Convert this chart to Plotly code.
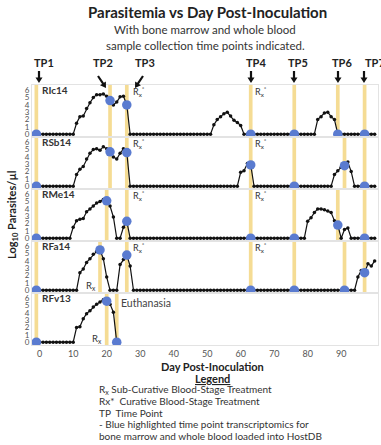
import math
import plotly.graph_objects as go
from plotly.subplots import make_subplots

# ---------------- data ----------------
days = list(range(0, 101))
animals = ["RIc14", "RSb14", "RMe14", "RFa14", "RFv13"]

ric14 = [0, 0, 0, 0, 0, 0, 0, 0, 0, 0, 0,
         1.5, 2.4, 2.5, 3.5, 4.3, 5.0, 5.4, 5.4, 5.5, 5.2, 4.6, 4.0, 4.4, 5.1, 5.2, 4.0,
         0, 0, 0, 0, 0, 0, 0, 0, 0, 0, 0, 0, 0, 0, 0, 0, 0, 0, 0, 0, 0, 0, 0, 0, 0,
         1.3, 2.0, 2.4, 2.8, 3.0, 2.5, 1.9, 1.6, 1.2,
         0, 0, 0, 0, 0, 0, 0, 0, 0, 0, 0, 0, 0, 0, 0, 0, 0, 0, 0, 0, 0, 0,
         2.0, 2.4, 2.9, 3.0, 2.4, 2.0,
         0, 0, 0, 0, 0, 0, 0, 0, 0, 0, 0, 0]
rsb14 = [0, 0, 0, 0, 0, 0, 0, 0, 0, 0, 0,
         1.6, 2.3, 2.7, 3.7, 4.5, 5.0, 5.1, 4.9, 5.4, 5.1, 4.7, 4.0, 3.7, 4.5, 5.1, 4.6,
         0, 0, 0, 0, 0, 0, 0, 0, 0, 0, 0, 0, 0, 0, 0, 0, 0, 0, 0, 0, 0, 0, 0, 0, 0,
         0, 0, 0, 0, 0, 0, 0, 0,
         1.9, 2.1, 3.1, 2.9,
         0, 0, 0, 0, 0, 0, 0, 0, 0, 0, 0, 0, 0, 0, 0, 0, 0, 0, 0, 0, 0, 0, 0, 0,
         1.6, 2.1, 2.6, 2.8, 3.3, 2.0,
         0, 0, 0, 0, 0, 0, 0]
rme14 = [0, 0, 0, 0, 0, 0, 0, 0, 0, 0,
         1.5, 2.4, 2.6, 2.7, 3.6, 4.0, 4.4, 4.8, 5.0, 5.3, 5.1, 4.4, 2.9,
         0, 0,
         1.5, 2.3,
         0, 0, 0, 0, 0, 0, 0, 0, 0, 0, 0, 0, 0, 0, 0, 0, 0, 0, 0, 0, 0, 0, 0, 0, 0,
         0, 0, 0, 0, 0, 0, 0, 0, 0, 0, 0, 0, 0, 0, 0, 0, 0, 0, 0, 0, 0, 0, 0, 0, 0,
         0, 0, 0,
         2.3, 2.8, 3.5, 4.0, 4.0, 3.9, 3.7, 3.5, 2.4, 1.8,
         0,
         1.2, 1.4,
         0, 0, 0, 0, 0, 0, 0, 0]
rfa14 = [0, 0, 0, 0, 0, 0, 0, 0, 0, 0, 0, 0,
         2.4, 2.9, 3.8, 4.3, 4.9, 5.3, 5.5, 4.3, 1.8,
         0, 0, 0,
         3.5, 4.2, 4.8, 3.3,
         0, 0, 0, 0, 0, 0, 0, 0, 0, 0, 0, 0, 0, 0, 0, 0, 0, 0, 0, 0, 0, 0, 0, 0, 0,
         0, 0, 0, 0, 0, 0, 0, 0, 0, 0, 0, 0, 0, 0, 0, 0, 0, 0, 0, 0, 0, 0, 0, 0, 0,
         0, 0, 0, 0, 0, 0, 0, 0, 0, 0, 0, 0, 0, 0, 0, 0, 0,
         1.8, 2.7, 2.4, 3.6, 3.3, 4.0]
rfv13 = [0, 0, 0, 0, 0, 0, 0, 0, 0, 0, 0,
         2.0, 2.1, 3.2, 3.9, 4.3, 4.8, 5.2, 5.5, 5.8, 5.6, 5.2, 4.1,
         0]
series = [ric14, rsb14, rme14, rfa14, rfv13]

# time-point (sample collection) days and log10 parasitemia at those days
tp_days = [
    [-1, 21, 26, 63, 76, 89, 97],
    [-1, 21, 26, 63, 76, 91, 97],
    [-1, 20, 26, 63, 76, 89, 97],
    [-1, 18, 26, 63, 76, 91, 97],
    [-1, 20, 23],
]
tp_vals = [
    [0, 4.6, 4.0, 0, 0, 0, 0],
    [0, 4.7, 4.6, 2.9, 0, 2.8, 0],
    [0, 5.1, 2.3, 0, 0, 1.8, 0],
    [0, 5.5, 4.8, 0, 0, 0, 2.4],
    [0, 5.6, 0],
]
x_ticks = [0, 10, 20, 30, 40, 50, 60, 70, 80, 90, 100]
y_ticks = [0, 1, 2, 3, 4, 5, 6]
tp_labels = ["TP1", "TP2", "TP3", "TP4", "TP5", "TP6", "TP7"]

# ---------------- figure ----------------
W, H = 381, 445
PL, PR, PT, PB = 32, 3, 85, 100
PW, PH = W - PL - PR, H - PT - PB


def px(x):
    return (x - PL) / PW


def py(y):
    return (PT + PH - y) / PH


fig = make_subplots(rows=5, cols=1, shared_xaxes=True, vertical_spacing=0)

BAND = "rgba(241,208,112,0.75)"
BLUE = "#5a7bd0"
FONT = "Lato"

for i, (vals, tds, tvs) in enumerate(zip(series, tp_days, tp_vals)):
    r = i + 1
    xs = days[:len(vals)]
    fig.add_trace(go.Scatter(x=xs, y=vals, mode="lines+markers",
                             line=dict(color="#111111", width=1.2),
                             marker=dict(color="#111111", size=3.5),
                             showlegend=False, hoverinfo="skip"), row=r, col=1)
    fig.add_trace(go.Scatter(x=tds, y=tvs, mode="markers",
                             marker=dict(color=BLUE, size=9.5),
                             showlegend=False, hoverinfo="skip"), row=r, col=1)
    yref = "y domain" if r == 1 else f"y{r} domain"
    xref = "x" if r == 1 else f"x{r}"
    for d in tds:
        fig.add_shape(type="rect", xref=xref, yref=yref, x0=d - 0.55, x1=d + 0.55,
                      y0=0, y1=1, fillcolor=BAND, line=dict(width=0), layer="below")

for r in range(1, 6):
    fig.update_yaxes(range=[-0.38, 6.72], tickvals=y_ticks, showgrid=False, zeroline=False,
                     tickfont=dict(size=8, color="#555", family=FONT),
                     showline=True, linecolor="#e3e3e3", mirror=True, ticks="",
                     row=r, col=1)
    fig.update_xaxes(range=[-2.3, 101.0], tickvals=x_ticks, showgrid=False, zeroline=False,
                     showline=True, linecolor="#e3e3e3", mirror=True, ticks="",
                     tickfont=dict(size=9, color="#555", family=FONT),
                     showticklabels=(r == 5), row=r, col=1)

ann = []


def dtext(r, x, y, text, xanchor="left", size=9, bold=False, color="#333"):
    xr = "x" if r == 1 else f"x{r}"
    yr = "y" if r == 1 else f"y{r}"
    t = f"<b>{text}</b>" if bold else text
    ann.append(dict(x=x, y=y, xref=xr, yref=yr, text=t, showarrow=False,
                    xanchor=xanchor, yanchor="middle",
                    font=dict(size=size, color=color, family=FONT)))


RXS = "R<sub>x</sub><sup>*</sup>"
RX = "R<sub>x</sub>"
for r, name in enumerate(animals, start=1):
    dtext(r, 0.1, 6.0, name, size=10, bold=True)
for r in (1, 2, 3, 4):
    dtext(r, 27.2, 5.9, RXS, size=9)
    dtext(r, 63.8, 5.9, RXS, size=9)
dtext(4, 17.4, 0.6, RX, xanchor="right", size=9.5)
dtext(5, 19.3, 0.5, RX, xanchor="right", size=9.5)
dtext(5, 23.6, 5.4, "Euthanasia", size=10.5, color="#444")


def ptext(x, y, text, size, xanchor="center", bold=False, color="#222", underline=False):
    t = text
    if underline:
        t = f"<u>{t}</u>"
    if bold:
        t = f"<b>{t}</b>"
    ann.append(dict(x=px(x), y=py(y), xref="paper", yref="paper", text=t, showarrow=False,
                    xanchor=xanchor, yanchor="middle",
                    font=dict(size=size, color=color, family=FONT)))


ptext(207, 12, "Parasitemia vs Day Post-Inoculation", 15, bold=True)
ptext(205, 29, "With bone marrow and whole blood", 11.5, color="#333")
ptext(205, 45, "sample collection time points indicated.", 11.5, color="#333")

# TP labels
tp_text_x = [44, 103, 145, 256, 298, 342, 363]
for lab, tx in zip(tp_labels, tp_text_x):
    ptext(tx, 62, lab, 11, bold=True, xanchor="left" if lab == "TP7" else "center")


# arrows drawn as filled paths (pixel geometry converted to paper coords)
def arrow_path(tx, ty, hx, hy, head_len=5.5, head_w=7.0, shaft_w=2.2):
    dx, dy = hx - tx, hy - ty
    L = math.hypot(dx, dy)
    ux, uy = dx / L, dy / L
    nx, ny = -uy, ux
    bx, by = hx - ux * head_len, hy - uy * head_len
    pts = [
        (tx + nx * shaft_w / 2, ty + ny * shaft_w / 2),
        (bx + nx * shaft_w / 2, by + ny * shaft_w / 2),
        (bx + nx * head_w / 2, by + ny * head_w / 2),
        (hx, hy),
        (bx - nx * head_w / 2, by - ny * head_w / 2),
        (bx - nx * shaft_w / 2, by - ny * shaft_w / 2),
        (tx - nx * shaft_w / 2, ty - ny * shaft_w / 2),
    ]
    return "M " + " L ".join(f"{px(a):.5f},{py(b):.5f}" for a, b in pts) + " Z"


arrows = [(39, 71, 39, 83), (98, 76, 106, 88), (143, 76, 135, 88),
          (251, 71, 251, 83), (294, 71, 294, 83), (338, 71, 338, 83), (364, 71, 364, 83)]
for tx, ty, hx, hy in arrows:
    fig.add_shape(type="path", xref="paper", yref="paper", path=arrow_path(tx, ty, hx, hy),
                  fillcolor="#111", line=dict(width=0))

# axis titles
ann.append(dict(x=px(12), y=py(215), xref="paper", yref="paper",
                text="<b>Log<sub>10</sub> Parasites/µl</b>", textangle=-90, showarrow=False,
                xanchor="center", yanchor="middle",
                font=dict(size=11, color="#222", family=FONT)))
ptext(212, 366, "Day Post-Inoculation", 11, bold=True)
ptext(212, 378, "Legend", 11, bold=True, underline=True)

legend_lines = [
    "R<sub>x</sub> Sub-Curative Blood-Stage Treatment",
    "Rx*  Curative Blood-Stage Treatment",
    "TP  Time Point",
    "- Blue highlighted time point transcriptomics for",
    "bone marrow and whole blood loaded into HostDB",
]
for k, line in enumerate(legend_lines):
    ptext(97, 389 + k * 11.8, line, 10, xanchor="left", color="#333")

fig.update_layout(width=W, height=H, margin=dict(l=PL, r=PR, t=PT, b=PB),
                  paper_bgcolor="white", plot_bgcolor="white",
                  annotations=ann, showlegend=False,
                  font=dict(family=FONT))

fig.write_html("out.html", config={"displayModeBar": False},
               post_script="document.body.style.margin='0px';")
